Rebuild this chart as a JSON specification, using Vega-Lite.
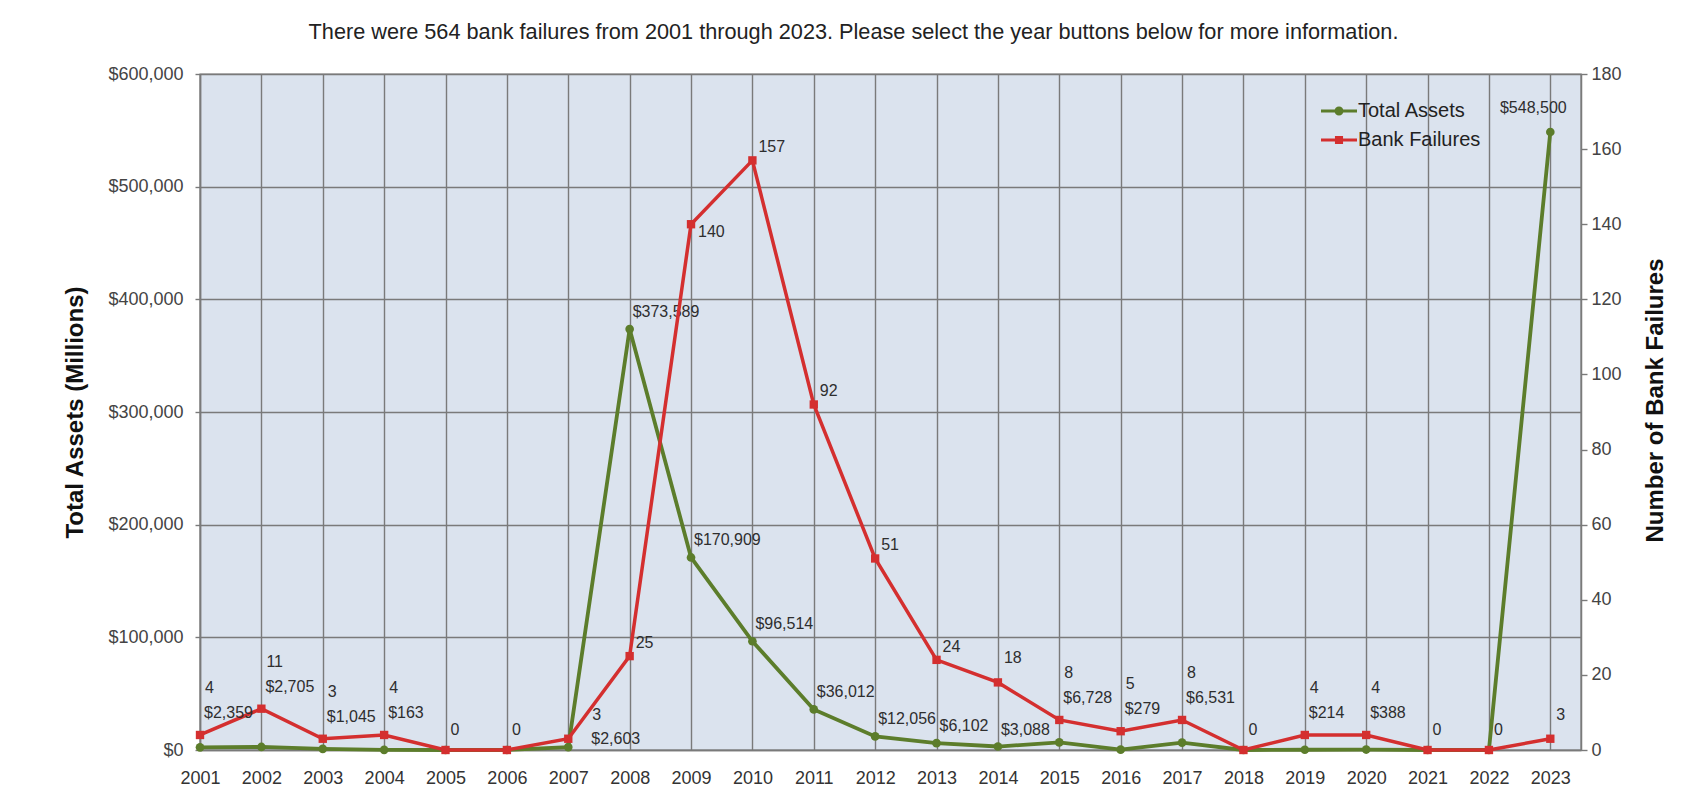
{
  "$schema": "https://vega.github.io/schema/vega-lite/v6.json",
  "width": 1381,
  "height": 676,
  "autosize": {"type": "none"},
  "padding": {"left": 200, "top": 74, "right": 109, "bottom": 51},
  "background": "white",
  "view": {"fill": "#dbe3ee", "stroke": "#7a7a7a", "strokeWidth": 1.4},
  "title": {
    "text": "There were 564 bank failures from 2001 through 2023. Please select the year buttons below for more information.",
    "font": "Liberation Sans",
    "fontSize": 21.7,
    "fontWeight": "normal",
    "color": "#222222",
    "anchor": "middle",
    "dx": -37,
    "offset": 21
  },
  "config": {
    "view": {"fill": "#dbe3ee", "stroke": "#7a7a7a"},
    "font": "Liberation Sans",
    "text": {"font": "Liberation Sans", "fontSize": 16, "color": "#2e2e2e"}
  },
  "data": {
    "values": [
      {"year": 2001, "failures": 4, "assets": 2359},
      {"year": 2002, "failures": 11, "assets": 2705},
      {"year": 2003, "failures": 3, "assets": 1045},
      {"year": 2004, "failures": 4, "assets": 163},
      {"year": 2005, "failures": 0, "assets": 0},
      {"year": 2006, "failures": 0, "assets": 0},
      {"year": 2007, "failures": 3, "assets": 2603},
      {"year": 2008, "failures": 25, "assets": 373589},
      {"year": 2009, "failures": 140, "assets": 170909},
      {"year": 2010, "failures": 157, "assets": 96514},
      {"year": 2011, "failures": 92, "assets": 36012},
      {"year": 2012, "failures": 51, "assets": 12056},
      {"year": 2013, "failures": 24, "assets": 6102},
      {"year": 2014, "failures": 18, "assets": 3088},
      {"year": 2015, "failures": 8, "assets": 6728},
      {"year": 2016, "failures": 5, "assets": 279},
      {"year": 2017, "failures": 8, "assets": 6531},
      {"year": 2018, "failures": 0, "assets": 0},
      {"year": 2019, "failures": 4, "assets": 214},
      {"year": 2020, "failures": 4, "assets": 388},
      {"year": 2021, "failures": 0, "assets": 0},
      {"year": 2022, "failures": 0, "assets": 0},
      {"year": 2023, "failures": 3, "assets": 548500}
    ]
  },
  "layer": [
    {
      "encoding": {
        "x": {
          "field": "year", "type": "quantitative",
          "scale": {"domain": [2001, 2023.5], "nice": false, "zero": false},
          "axis": {
            "title": null, "format": "d",
            "values": [2001,2002,2003,2004,2005,2006,2007,2008,2009,2010,2011,2012,2013,2014,2015,2016,2017,2018,2019,2020,2021,2022,2023],
            "grid": true, "gridColor": "#7a7a7a", "gridWidth": 1.4,
            "ticks": false, "labelPadding": 19, "labelFlush": false, "labelOverlap": false,
            "labelFontSize": 18, "labelColor": "#333333", "labelFont": "Liberation Sans",
            "domainColor": "#7a7a7a", "domainWidth": 1.5
          }
        },
        "y": {
          "field": "assets", "type": "quantitative",
          "scale": {"domain": [0, 600000], "nice": false},
          "axis": {
            "orient": "left", "format": "$,.0f",
            "values": [0, 100000, 200000, 300000, 400000, 500000, 600000],
            "title": "Total Assets (Millions)",
            "titleFont": "Liberation Sans", "titleFontSize": 24, "titleFontWeight": "bold", "titleColor": "#111111",
            "titlePadding": 20,
            "grid": true, "gridColor": "#7a7a7a", "gridWidth": 1.4,
            "tickSize": 5, "tickColor": "#7a7a7a", "tickWidth": 1.4,
            "labelFontSize": 18, "labelColor": "#444444", "labelFont": "Liberation Sans", "labelPadding": 12,
            "labelFlush": false, "labelOverlap": false,
            "domainColor": "#7a7a7a", "domainWidth": 1.5
          }
        }
      },
      "layer": [
        {"mark": {"type": "line", "color": "#5c7d2b", "strokeWidth": 3.8}, "encoding": {}},
        {"mark": {"type": "point", "shape": "circle", "filled": true, "size": 75, "color": "#5c7d2b", "opacity": 1}, "encoding": {}},
        {
          "transform": [{"filter": {"field": "year", "oneOf": [2008, 2009, 2010, 2011, 2012, 2013, 2014]}}],
          "mark": {"type": "text", "align": "left", "baseline": "middle", "dx": 3, "dy": -17},
          "encoding": {"text": {"field": "assets", "type": "quantitative", "format": "$,.0f"}}
        },
        {
          "transform": [{"filter": {"field": "year", "oneOf": [2023]}}],
          "mark": {"type": "text", "align": "center", "baseline": "middle", "dx": -17, "dy": -24},
          "encoding": {"text": {"field": "assets", "type": "quantitative", "format": "$,.0f"}}
        }
      ]
    },
    {
      "encoding": {
        "x": {
          "field": "year", "type": "quantitative",
          "scale": {"domain": [2001, 2023.5], "nice": false, "zero": false},
          "axis": {
            "title": null, "format": "d",
            "values": [2001,2002,2003,2004,2005,2006,2007,2008,2009,2010,2011,2012,2013,2014,2015,2016,2017,2018,2019,2020,2021,2022,2023],
            "grid": true, "gridColor": "#7a7a7a", "gridWidth": 1.4,
            "ticks": false, "labelPadding": 19, "labelFlush": false, "labelOverlap": false,
            "labelFontSize": 18, "labelColor": "#333333", "labelFont": "Liberation Sans",
            "domainColor": "#7a7a7a", "domainWidth": 1.5
          }
        },
        "y": {
          "field": "failures", "type": "quantitative",
          "scale": {"domain": [0, 180], "nice": false},
          "axis": {
            "orient": "right",
            "values": [0, 20, 40, 60, 80, 100, 120, 140, 160, 180],
            "title": "Number of Bank Failures",
            "titleFont": "Liberation Sans", "titleFontSize": 24, "titleFontWeight": "bold", "titleColor": "#111111",
            "titleAngle": 270, "titlePadding": 46, "titleY": 326,
            "grid": false,
            "tickSize": 6, "tickColor": "#7a7a7a", "tickWidth": 1.4,
            "labelFontSize": 18, "labelColor": "#444444", "labelFont": "Liberation Sans", "labelPadding": 4,
            "labelFlush": false, "labelOverlap": false,
            "domainColor": "#7a7a7a", "domainWidth": 1.5
          }
        }
      },
      "layer": [
        {"mark": {"type": "line", "color": "#d42f2f", "strokeWidth": 3.5}, "encoding": {}},
        {"mark": {"type": "point", "shape": "square", "filled": true, "size": 70, "color": "#d42f2f", "opacity": 1}, "encoding": {}},
        {
          "transform": [{"filter": {"field": "year", "oneOf": [2008, 2010, 2011, 2012, 2013]}}],
          "mark": {"type": "text", "align": "left", "baseline": "middle", "dx": 6, "dy": -13},
          "encoding": {"text": {"field": "failures", "type": "quantitative"}}
        },
        {
          "transform": [{"filter": {"field": "year", "oneOf": [2009]}}],
          "mark": {"type": "text", "align": "left", "baseline": "middle", "dx": 7, "dy": 8},
          "encoding": {"text": {"field": "failures", "type": "quantitative"}}
        },
        {
          "transform": [{"filter": {"field": "year", "oneOf": [2014, 2023]}}],
          "mark": {"type": "text", "align": "left", "baseline": "middle", "dx": 6, "dy": -24},
          "encoding": {"text": {"field": "failures", "type": "quantitative"}}
        },
        {
          "transform": [{"filter": {"field": "year", "oneOf": [2001, 2002, 2003, 2004, 2015, 2016, 2017, 2019, 2020]}}],
          "mark": {"type": "text", "align": "left", "baseline": "middle", "dx": 5, "dy": -47},
          "encoding": {"text": {"field": "failures", "type": "quantitative"}}
        },
        {
          "transform": [{"filter": {"field": "year", "oneOf": [2005, 2006, 2018, 2021, 2022]}}],
          "mark": {"type": "text", "align": "left", "baseline": "middle", "dx": 5, "dy": -20},
          "encoding": {"text": {"field": "failures", "type": "quantitative"}}
        },
        {
          "transform": [{"filter": {"field": "year", "oneOf": [2007]}}],
          "mark": {"type": "text", "align": "left", "baseline": "middle", "dx": 24, "dy": -24},
          "encoding": {"text": {"field": "failures", "type": "quantitative"}}
        },
        {
          "transform": [{"filter": {"field": "year", "oneOf": [2001, 2002, 2003, 2004, 2015, 2016, 2017, 2019, 2020]}}],
          "mark": {"type": "text", "align": "left", "baseline": "middle", "dx": 4, "dy": -22},
          "encoding": {"text": {"field": "assets", "type": "quantitative", "format": "$,.0f"}}
        },
        {
          "transform": [{"filter": {"field": "year", "oneOf": [2007]}}],
          "mark": {"type": "text", "align": "left", "baseline": "middle", "dx": 23, "dy": 0},
          "encoding": {"text": {"field": "assets", "type": "quantitative", "format": "$,.0f"}}
        }
      ]
    },
    {
      "transform": [{"filter": "datum.year < 0"}],
      "mark": {"type": "point", "filled": true, "opacity": 1},
      "encoding": {
        "color": {
          "datum": "Total Assets",
          "scale": {"domain": ["Total Assets", "Bank Failures"], "range": ["#5c7d2b", "#d42f2f"]},
          "legend": {"orient": "none", "legendX": 1129, "legendY": 27, "title": null, "padding": 0,
                     "labelFont": "Liberation Sans", "labelFontSize": 20, "labelColor": "#222222",
                     "symbolSize": 324, "labelOffset": 9, "rowPadding": 9, "symbolStrokeWidth": 0}
        },
        "shape": {
          "datum": "Total Assets",
          "scale": {"domain": ["Total Assets", "Bank Failures"],
                    "range": ["M-2,-0.17H2V0.17H-2Z M0.5,0A0.5,0.5 0 1,1 -0.5,0A0.5,0.5 0 1,1 0.5,0Z",
                              "M-2,-0.17H2V0.17H-2Z M-0.45,-0.45H0.45V0.45H-0.45Z"]},
          "legend": {"orient": "none", "legendX": 1129, "legendY": 27, "title": null, "padding": 0,
                     "labelFont": "Liberation Sans", "labelFontSize": 20, "labelColor": "#222222",
                     "symbolSize": 324, "labelOffset": 9, "rowPadding": 9, "symbolStrokeWidth": 0}
        }
      }
    }
  ],
  "resolve": {"scale": {"y": "independent"}, "axis": {"y": "independent"}}
}
